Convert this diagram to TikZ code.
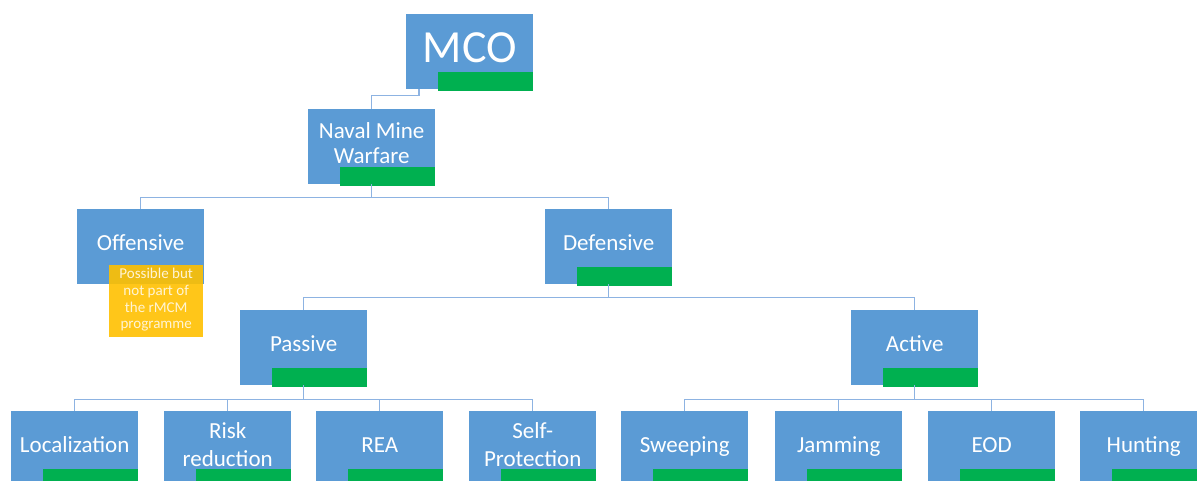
\documentclass[tikz,border=0pt]{standalone}
\usepackage{fontspec}
\setmainfont{Carlito}
\definecolor{boxblue}{HTML}{5B9BD5}
\definecolor{bargreen}{HTML}{00B050}
\definecolor{linkblue}{HTML}{8DB3E2}
\definecolor{noteyellow}{HTML}{FFC000}
\definecolor{notetext}{HTML}{FFF4D4}

% one hierarchy box: blue body, green status bar, caption
\newcommand\orgunit[4]{%
  \node[box] (#1) at (#2,#3) {};
  \node[bar] (#1-bar) at ([yshift=-1.5pt]#1.south east) {};
  \node[lbl] (#1-txt) at ([yshift=4pt]#1.center) {#4};
}

\begin{document}
\begin{tikzpicture}[x=1pt,y=-1pt,
  box/.style={fill=boxblue, minimum width=127pt, minimum height=75pt,
              inner sep=0pt, anchor=north west},
  bar/.style={fill=bargreen, minimum width=95pt, minimum height=19pt,
              inner sep=0pt, anchor=south east},
  lbl/.style={text=white, font=\fontsize{23}{28}\selectfont, align=center,
              inner sep=0pt, text depth=0pt},
  link/.style={draw=linkblue, line width=1.5pt}]

\useasboundingbox (0,0) rectangle (1197,481);
\fill[white] (0,0) rectangle (1197,481);
\clip (0,0) rectangle (1197,481);

% top levels
\node[box] (mco) at (406,14) {};
\node[bar] (mco-bar) at ([yshift=-1.5pt]mco.south east) {};
\node[lbl, font=\fontsize{46}{50}\selectfont] (mco-txt) at ([yshift=4pt]mco.center) {MCO};

\node[box] (nmw) at (308,109) {};
\node[bar] (nmw-bar) at ([yshift=-1.5pt]nmw.south east) {};
\node[lbl, font=\fontsize{23}{25}\selectfont] (nmw-txt) at ([yshift=4pt]nmw.center) {Naval Mine\\Warfare};

\node[box] (off) at (77,209) {};
\node[lbl] (off-txt) at ([yshift=4pt]off.center) {Offensive};

\orgunit{def}{545}{209}{Defensive}
\orgunit{pas}{240}{310}{Passive}
\orgunit{act}{851}{310}{Active}

% leaves
\orgunit{loc}{11}{411}{Localization}
\orgunit{risk}{164}{411}{Risk\\reduction}
\orgunit{rea}{316}{411}{REA}
\orgunit{selfp}{469}{411}{Self-\\Protection}
\orgunit{sweep}{621}{411}{Sweeping}
\orgunit{jam}{775}{411}{Jamming}
\orgunit{eod}{928}{411}{EOD}
\orgunit{hunt}{1080}{411}{Hunting}

% note attached to the offensive branch
\node[fill=noteyellow, fill opacity=0.9, minimum width=94pt, minimum height=72pt,
      inner sep=0pt, anchor=north west] (note) at (109,265) {};
\node[text=notetext, font=\fontsize{15}{16.7}\selectfont, align=center,
      inner sep=0pt, text depth=0pt] (note-txt) at ([yshift=2.5pt]note.center)
      {Possible but\\not part of\\the rMCM\\programme};

% connectors
\draw[link] ([xshift=13pt]mco.south west) -- ++(0,6) -| (nmw.north);
\draw[link] (nmw.south) -- ++(0,13) -| (off.north);
\draw[link] (nmw.south) -- ++(0,13) -| (def.north);
\draw[link] (def.south) -- ++(0,13) -| (pas.north);
\draw[link] (def.south) -- ++(0,13) -| (act.north);
\foreach \c in {loc,risk,rea,selfp}
  \draw[link] (pas.south) -- ++(0,14) -| (\c.north);
\foreach \c in {sweep,jam,eod,hunt}
  \draw[link] (act.south) -- ++(0,14) -| (\c.north);
\end{tikzpicture}
\end{document}
